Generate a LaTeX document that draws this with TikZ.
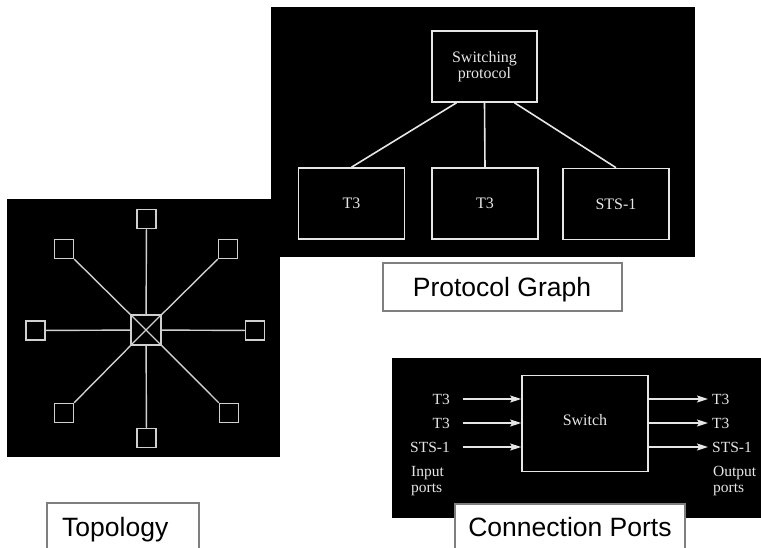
\documentclass[tikz,border=0pt]{standalone}
\usepackage{fontspec}
\setmainfont{Liberation Serif}
\newfontfamily\labelfont{Liberation Sans}
\usetikzlibrary{arrows.meta}
\definecolor{fg}{HTML}{E6E6E6}
\definecolor{tg}{HTML}{D0D0D0}
\definecolor{lbord}{HTML}{7F7F7F}
\tikzset{
  panel/.style={fill=black, draw=none},
  pbox/.style={draw=fg, line width=1.6pt, text=fg, minimum width=106pt, minimum height=71pt, inner sep=0pt, align=center, font=\fontsize{16}{16}\selectfont},
  plink/.style={draw=fg, line width=1.6pt},
  tnode/.style={draw=tg, line width=1.5pt, minimum size=19pt, inner sep=0pt},
  tlink/.style={draw=tg, line width=1.4pt},
  ctext/.style={text=fg, font=\fontsize{15.5}{16.5}\selectfont, inner sep=0pt},
  carrow/.style={draw=fg, line width=1.4pt, -{Stealth[length=11pt,width=7pt,inset=2pt]}},
  lbl/.style={draw=lbord, line width=1.2pt, fill=white},
  lbltext/.style={font=\labelfont\fontsize{26.5}{30}\selectfont, inner sep=0pt}
}
\begin{document}
\begin{tikzpicture}[x=1pt,y=-1pt]
\useasboundingbox (0,0) rectangle (761,548);
% panels
\fill[panel] (271,7) rectangle (695,257);
\fill[panel] (7,199) rectangle (280,457);
\fill[panel] (392,358) rectangle (761,518);
% protocol graph
\node[pbox, minimum width=105pt] (sw) at (484.5,66.5) {Switching\\protocol};
\node[pbox] (t1) at (351.5,203.5) {T3};
\node[pbox] (t2) at (485,203.5) {T3};
\node[pbox] (sts) at (616,204) {STS-1};
\draw[plink] ([xshift=-28pt]sw.south) -- (t1.north);
\draw[plink] (sw.south) -- (t2.north);
\draw[plink] ([xshift=30pt]sw.south) -- (sts.north);
% topology
\node[tnode, minimum size=30pt] (c) at (146,330) {};
\draw[tlink] (c.north west) -- (c.south east);
\draw[tlink] (c.north east) -- (c.south west);
\node[tnode] (n) at (146.5,219) {};
\node[tnode] (ne) at (228,249) {};
\node[tnode] (e) at (255,330.5) {};
\node[tnode] (se) at (229,413) {};
\node[tnode] (s) at (146.5,438) {};
\node[tnode] (sw2) at (64,413) {};
\node[tnode] (w) at (35.5,330.5) {};
\node[tnode] (nw) at (64,249) {};
\foreach \k in {n,ne,e,se,s,sw2,w,nw} \draw[tlink] (c) -- (\k);
% connection ports
\node[draw=fg, line width=1.6pt, minimum width=126pt, minimum height=96pt, inner sep=0pt] (swb) at (585,423.5) {};
\node[ctext, font=\fontsize{16}{18}\selectfont] (swl) at (585,420) {Switch};
\node[ctext, anchor=east] (i1) at (450,399) {T3};
\node[ctext, anchor=east] (i2) at (450,423) {T3};
\node[ctext, anchor=east] (i3) at (450,447) {STS-1};
\node[ctext, anchor=west] (o1) at (712,399) {T3};
\node[ctext, anchor=west] (o2) at (712,423) {T3};
\node[ctext, anchor=west] (o3) at (712,447) {STS-1};
\node[ctext, anchor=north west, align=left] (ip) at (411,466) {Input\\ports};
\node[ctext, anchor=north west, align=left] (op) at (713,466) {Output\\ports};
\coordinate (a1) at (463,399);
\coordinate (a2) at (463,423);
\coordinate (a3) at (463,447);
\coordinate (b1) at (708,399);
\coordinate (b2) at (708,423);
\coordinate (b3) at (708,447);
\draw[carrow] (a1) -- (a1 -| swb.west);
\draw[carrow] (a2) -- (a2 -| swb.west);
\draw[carrow] (a3) -- (a3 -| swb.west);
\draw[carrow] (b1 -| swb.east) -- (b1);
\draw[carrow] (b2 -| swb.east) -- (b2);
\draw[carrow] (b3 -| swb.east) -- (b3);
% labels
\draw[lbl] (383,311) rectangle (622,263);
\node[lbltext, anchor=base] (lpg) at (502,297) {Protocol Graph};
\draw[lbl] (47,560) rectangle (199,503);
\node[lbltext, anchor=base west] (ltop) at (62,536) {Topology};
\draw[lbl] (455,560) rectangle (685,504);
\node[lbltext, anchor=base] (lcp) at (570,536) {Connection Ports};
\end{tikzpicture}
\end{document}
